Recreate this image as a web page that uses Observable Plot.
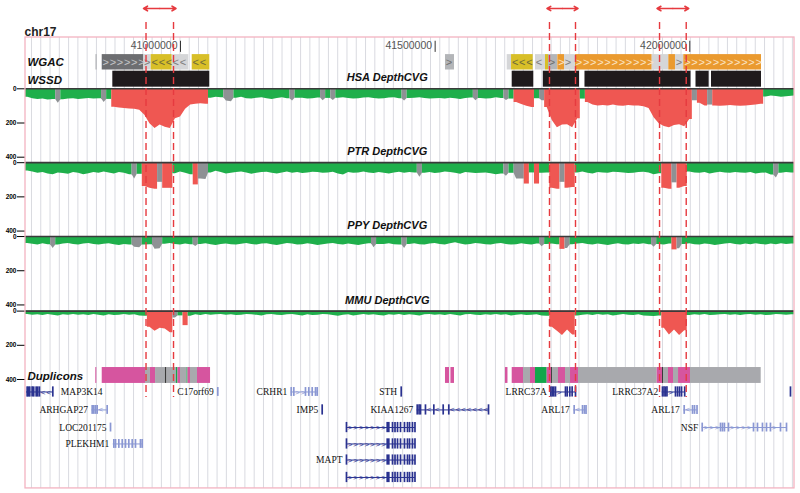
<!DOCTYPE html>
<html><head><meta charset="utf-8">
<script src="https://cdn.jsdelivr.net/npm/d3@7"></script>
<script src="https://cdn.jsdelivr.net/npm/@observablehq/plot@0.6"></script>
<style>body{margin:0;background:#fff}#chart svg{display:block}</style>
</head><body><div id="chart"></div>
<script>
// ================= DATA =================
const chrom = "chr17";
const rulerTicks = [41000, 41500, 42000];            // kb
const axisValues = [0, 200, 400];
const trackNames = ["HSA DepthCVG", "PTR DepthCVG", "PPY DepthCVG", "MMU DepthCVG"];
const sampleStart = 40695, sampleStep = 10;          // kb (bin start, bin width)

const hsaDepth = [
 50,58,62,60,66,62,85,64,60,58, 62,60,56,60,58,80,62,108,112,115,
 118,120,125,155,205,232,212,225,232,175, 165,120,95,90,88,90,55,50,52,72,
 75,55,50,58,60,55,52,58,62,56, 52,58,72,55,55,60,58,54,70,56,
 68,55,52,56,60,58,54,52,56,60, 58,54,52,58,72,56,55,52,56,60,
 58,56,60,55,58,62,56,54,70,56, 60,58,52,56,68,60,80,92,102,110,
 58,70,110,185,228,212,210,228,175,60, 80,95,100,98,100,95,100,102,98,100,
 100,105,115,170,205,220,228,215,210,222, 180,70,85,100,95,100,102,100,98,100,
 102,100,98,95,90,48,42,45,50,46, 44,40];
const hsaRed  = [[40860,41050],[41650,41690],[41710,41780],[41790,42000],[42010,42140]];
const hsaGray = [[40750,40760],[40840,40850],[41080,41100],[41210,41220],[41270,41280],[41290,41300],
                 [41430,41440],[41570,41580],[41630,41640],[41700,41710],[42000,42010],[42030,42040]];

const ptrDepth = [
 48,55,62,58,66,70,60,64,68,58, 62,70,65,58,62,55,60,66,58,62,
 70,96,68,140,150,155,115,150,150,65, 55,62,70,130,96,98,60,50,58,66,
 62,58,55,60,68,62,58,56,62,66, 60,55,62,58,64,60,56,58,62,60,
 56,66,72,58,62,60,55,60,64,58, 62,66,60,56,62,58,60,85,62,58,
 64,60,55,58,62,68,58,60,64,62, 60,65,70,66,80,62,96,96,125,60,
 125,62,60,150,156,115,150,145,60,55, 62,66,58,60,62,56,58,60,64,62,
 58,56,60,70,65,150,156,118,150,140, 55,60,62,58,66,60,56,60,62,58,
 60,62,58,66,62,60,72,90,62,58, 60,62];
const ptrRed  = [[40920,40980],[41020,41030],[41670,41680],[41690,41700],[41720,41770],[41940,41990]];
const ptrGray = [[40900,40910],[40950,40960],[41030,41050],[41460,41470],[41630,41640],[41650,41670],
                 [41740,41750],[41960,41970],[42160,42170]];

const ppyDepth = [
 40,45,50,42,48,70,50,44,40,46, 50,44,40,46,50,45,42,48,52,46,
 50,62,65,50,48,75,72,45,40,46, 50,44,48,58,46,42,48,52,46,44,
 48,50,45,40,46,50,44,42,48,52, 46,40,44,50,48,42,46,52,48,44,
 40,46,50,44,48,52,46,42,65,46, 46,42,48,50,70,46,42,48,50,44,
 40,46,50,42,36,44,50,46,40,44, 48,50,44,40,46,50,48,42,46,50,
 44,60,46,44,48,75,70,48,44,40, 46,50,44,48,52,46,42,48,50,44,
 46,42,48,62,46,50,44,78,72,46, 42,48,50,44,46,52,48,44,40,46,
 50,44,48,42,46,50,44,48,42,46, 44,42];
const ppyRed  = [[41740,41750],[41960,41970]];
const ppyGray = [[40740,40750],[40900,40920],[40940,40960],[41020,41030],[41370,41380],[41430,41440],
                 [41700,41710],[41750,41760],[41920,41930],[41970,41980]];

const mmuDepth = [
 20,24,22,26,20,24,28,22,25,20, 24,22,26,20,24,28,22,26,24,20,
 25,22,28,30,95,118,100,105,127,40, 28,85,30,22,26,20,24,22,20,25,
 22,26,24,20,22,25,28,22,20,24, 26,22,20,24,28,22,26,24,20,22,
 26,30,24,22,28,25,20,24,22,26, 28,22,24,20,26,22,24,28,22,20,
 24,22,26,20,24,28,22,20,24,26, 22,25,20,24,22,28,24,22,26,24,
 22,28,30,95,118,142,110,140,28,24, 22,26,20,24,22,28,24,20,24,26,
 22,28,30,32,28,100,140,110,142,115, 26,22,24,20,26,24,22,20,24,22,
 26,22,20,24,22,26,24,20,22,24, 22,20];
const mmuRed  = [[40930,40980],[41000,41010],[41720,41770],[41940,41990]];
const mmuGray = [[40980,40990]];

// WGAC blocks: start, end (kb), type, strand
const wgacStart  = [40834,40846.3,40927.9,40942.5,40983.7,41023,41520.3,41641.5,41650,41697,41716.7,41722.6,41740.8,41754,41775.6,41926.2,41958.8,41971.9,41988.2];
const wgacEnd    = [40836.5,40927.9,40942.5,40983.7,41016.3,41057.5,41538,41650,41692.5,41716.7,41722.6,41740.2,41754,41775.6,41926.2,41958.8,41971.9,41988.2,42140.8];
const wgacType   = ["mid","dark","light","yellow","light","yellow","mid","light","yellow","light","yellow","mid","orange","light","orange","light","orange","light","orange"];
const wgacStrand = ["",">",">","<","<","<",">","","<","<","",">",">",">",">","","",">",">"];

// WSSD blocks
const wssdStart = [40867.1,41651.3,41712.4,41794.2,42012.2,42042.6];
const wssdEnd   = [41057.5,41693.7,41783.5,42002.4,42038,42140.8];

// Duplicons
const dupStart = [40833.7,40846.3,40931.3,40941,40951,40970.5,40973.5,40992,40995,41000,41012.8,41014.7,41019.6,41033.4,
                  41520.3,41531,41638,41651.3,41673.5,41687.2,41697,41720,41728.5,41730.4,41742.2,41756,41765.8,41781.5,
                  41936,41946.4,41948.4,41958.2,41968,41977.9,42001.4];
const dupEnd   = [40835.7,40931.3,40941,40951,40970.5,40973.5,40992,40995,41000,41012.8,41014.7,41019.6,41033.4,41059,
                  41528.2,41538,41643,41673.5,41687.2,41697,41720,41728.5,41730.4,41742.2,41756,41765.8,41781.5,41936,
                  41946.4,41948.4,41958.2,41968,41977.9,42001.4,42140.2];
const dupType  = ["pink","pink","gray","pink","gray","dark","gray","green","pink","gray","green","pink","gray","pink",
                  "pink","pink","pink","pink","gray","pink","green","pink","dark","gray","pink","gray","pink","gray",
                  "pink","dark","gray","pink","gray","pink","gray"];

// Genes
const maptExons = [41325.9,41405.9,41409,41416.3,41421.2,41426.1,41432,41439.8,41445.7,41449.7,41455.5,41460.4];
const genes = [
 {name:"MAP3K14", row:0, start:40697.6, end:40749.3, tone:"dark", side:"right", chev:"<", exons:[40698.9,40701.5,40704,40708.7,40711.8,40716.6,40719.7,40723.1,40749.3]},
 {name:"C17orf69", row:0, start:41073.2, end:41073.2, tone:"light", exons:[41073.2]},
 {name:"CRHR1", row:0, start:41217.4, end:41268.4, tone:"light", chev:">", exons:[41217.4,41222.5,41245.4,41251.9,41258.6,41265.1,41268.4]},
 {name:"STH", row:0, start:41433.4, end:41433.4, tone:"dark", exons:[41433.4]},
 {name:"LRRC37A", row:0, start:41727.1, end:41775.6, tone:"dark", chev:">", exons:[41727.1,41729.8,41733,41736.3,41755.9,41759.2,41764.4,41769,41775.6]},
 {name:"LRRC37A2", row:0, start:41945.8, end:41991.6, tone:"dark", chev:">", exons:[41946.4,41949.4,41952.3,41955.2,41971.9,41975.9,41979.8,41983.8,41990]},
 {name:"", row:0, start:42197.7, end:42197.7, tone:"dark", exons:[42197.7]},
 {name:"ARHGAP27", row:1, start:40826.2, end:40856, tone:"light", chev:"<", exons:[40826.6,40829.8,40833.1,40836.4,40856]},
 {name:"IMP5", row:1, start:41278.2, end:41278.2, tone:"dark", exons:[41278.2]},
 {name:"KIAA1267", row:1, start:41464.8, end:41604.8, tone:"dark", chev:"<", exons:[41464.8,41468.4,41471.2,41481,41497.4,41515.8,41526.8,41604.8]},
 {name:"ARL17", row:1, start:41772.3, end:41796.6, tone:"light", chev:"<", exons:[41773,41789.4,41793.3,41796.3]},
 {name:"ARL17", row:1, start:41988.2, end:42014.5, tone:"light", chev:"<", exons:[41989,42005.4,42009.3,42014.2]},
 {name:"LOC201175", row:2, start:40862.6, end:40862.6, tone:"light", exons:[40862.6]},
 {name:"", row:2, start:41325.9, end:41461.4, tone:"dark", chev:">", exons:maptExons},
 {name:"NSF", row:2, start:42024.4, end:42191.3, tone:"light", chev:">", exons:[42024.4,42060.3,42064.2,42068,42076,42125.1,42132.9,42142.7,42150.6,42158.4,42178.1,42189.9]},
 {name:"PLEKHM1", row:3, start:40867.9, end:40924.8, tone:"light", exons:[40869.1,40872.4,40878.9,40885.6,40892,40898.5,40905.2,40911.6,40921.4,40924.8]},
 {name:"", row:3, start:41325.9, end:41461.4, tone:"dark", chev:">", exons:maptExons},
 {name:"MAPT", row:4, start:41325.9, end:41461.4, tone:"dark", chev:">", exons:maptExons},
 {name:"", row:5, start:41325.9, end:41461.4, tone:"dark", chev:">", exons:maptExons}
];

// Highlighted regions (kb)
const regionStart = [40932.3, 41724.5, 41940.6];
const regionEnd   = [40986.3, 41775.6, 41993.0];

// ================= LAYOUT & STYLE =================
const xDomain = [40695.66, 42205.6];
const yDomain = [-516.4, 2366.7];   // depth units, downward
const trackOffsets = [0, 432, 864, 1300];
const L = {
  arrowY: -469.6, dashY1: -387.7, dashY2: 1805,
  frameY1: -300, frameY2: 2337,
  rulerLabelY: -253, rulerTickY1: -278, rulerTickY2: -213,
  wgacY1: -200, wgacY2: -110, wgacLabelY: -154,
  wssdY1: -103, wssdY2: -9.5, wssdLabelY: -51,
  trackLabelX: 41406, trackLabelDy: -65,
  dupY1: 1630, dupY2: 1723, dupLabelY: 1680,
  geneRowY: [1773, 1878, 1981, 2077, 2171, 2273],
  gridStart: 40707.4, gridStep: 18.22
};
const C = {
  green:"#1faf4b", red:"#ef5752", gray:"#8e9194", base:"#3a3a3a", grid:"#d9dae0", frame:"#f3b3c1", marker:"#e63a3f",
  wgac:{dark:"#6d6e71", light:"#d5d6d8", mid:"#b3b5b8", yellow:"#d8bf28", orange:"#ea9a2f"},
  chev:{dark:"#c4c5c7", light:"#7d7d7d", mid:"#6f6f6f", yellow:"#6e6a3a", orange:"#fbe4c4"},
  dup:{pink:"#d6559f", gray:"#a8a9ad", green:"#13a64b", dark:"#3a3a3a"},
  gene:{dark:"#2a3290", light:"#8a97d3"}
};
const SANS = "Liberation Sans, Arial, sans-serif";
const SERIF = "Liberation Serif, Times New Roman, serif";

// ================= BUILD =================
const tracks = [
  {values:hsaDepth, red:hsaRed, gray:hsaGray},
  {values:ptrDepth, red:ptrRed, gray:ptrGray},
  {values:ppyDepth, red:ppyRed, gray:ppyGray},
  {values:mmuDepth, red:mmuRed, gray:mmuGray}
];
const inAny = (kb, iv) => iv.some(([a,b]) => kb >= a && kb < b);
const depthPts = [];
tracks.forEach((t, ti) => {
  const off = trackOffsets[ti];
  const bins = t.values.map((v, i) => {
    const b = sampleStart + i * sampleStep;
    const c = inAny(b, t.gray) ? "gray" : inAny(b, t.red) ? "red" : "green";
    return {b, x: b + sampleStep / 2, d: v, c};
  });
  let i = 0, seg = 0;
  while (i < bins.length) {
    let j = i;
    while (j + 1 < bins.length && bins[j + 1].c === bins[i].c) j++;
    const c = bins[i].c, key = ti + "-" + seg++;
    const push = (x, d) => depthPts.push({x, y: off + d, base: off, seg: key, fill: C[c]});
    let ld = bins[i].d;
    if (i > 0) { const pc = bins[i - 1].c; if (c !== "red" && pc !== "red" && c !== "green") ld = bins[i - 1].d; }
    push(bins[i].b, ld);
    for (let k = i; k <= j; k++) push(bins[k].x, bins[k].d);
    let rd = bins[j].d;
    if (j < bins.length - 1) { const nc = bins[j + 1].c; if (c !== "red" && nc !== "red" && c !== "green") rd = bins[j + 1].d; }
    push(bins[j].b + sampleStep, rd);
    i = j + 1;
  }
});

const wgac = wgacStart.map((s, i) => ({x1: s, x2: wgacEnd[i], type: wgacType[i], strand: wgacStrand[i]}));
const wgacChev = wgac.filter(d => d.strand).flatMap(d => {
  let r = d3.range(d.x1 + 7, d.x2 - 3, 14);
  if (!r.length) r = [(d.x1 + d.x2) / 2];
  return r.map(x => ({x, s: d.strand, fill: C.chev[d.type]}));
});
const wssd = wssdStart.map((s, i) => ({x1: s, x2: wssdEnd[i]}));
const dups = dupStart.map((s, i) => ({x1: s, x2: dupEnd[i], fill: C.dup[dupType[i]]}));

const exonData = genes.flatMap(g => g.exons.map(x => ({
  x, y1: L.geneRowY[g.row] - (g.tone === "dark" ? 30 : 26), y2: L.geneRowY[g.row] + (g.tone === "dark" ? 30 : 26),
  stroke: C.gene[g.tone]})));
const geneChev = genes.filter(g => g.chev).flatMap(g => {
  const ex = [...g.exons].sort((a, b) => a - b);
  const out = [];
  for (let i = 0; i < ex.length - 1; i++) {
    if (ex[i + 1] - ex[i] > 14) d3.range(ex[i] + 7, ex[i + 1] - 4, 11).forEach(x => out.push({x, y: L.geneRowY[g.row], s: g.chev, fill: C.gene[g.tone]}));
  }
  return out;
});
const geneLabels = genes.filter(g => g.name);

const axisTicks = trackOffsets.flatMap(o => axisValues.map(v => o + v));
const axisLabel = d => { const o = trackOffsets.filter(o => o <= d + 1e-6).pop(); return String(Math.round(d - o)); };

const arrows = regionStart.flatMap((a, i) => {
  const m = (a + regionEnd[i]) / 2;
  return [{x1: m, x2: a}, {x1: m, x2: regionEnd[i]}];
});
const gridX = d3.range(L.gridStart, xDomain[1], L.gridStep);

const chart = Plot.plot({
  width: 800, height: 493,
  marginLeft: 25, marginRight: 6, marginTop: 0, marginBottom: 0,
  x: {domain: xDomain, axis: null},
  y: {domain: yDomain, range: [0, 493], axis: null},
  color: {type: "identity"},
  style: {background: "#fff", overflow: "visible"},
  marks: [
    Plot.ruleX(gridX, {y1: L.frameY1, y2: L.frameY2, stroke: C.grid, strokeWidth: 1}),
    // WGAC
    Plot.rect(wgac, {x1: "x1", x2: "x2", y1: L.wgacY1, y2: L.wgacY2, fill: d => C.wgac[d.type]}),
    Plot.text(wgacChev, {x: "x", y: (L.wgacY1 + L.wgacY2) / 2, text: "s", fill: "fill", fontSize: 11, fontFamily: SANS}),
    // WSSD
    Plot.rect(wssd, {x1: "x1", x2: "x2", y1: L.wssdY1, y2: L.wssdY2, fill: "#1f1a1c"}),
    // depth tracks
    Plot.areaY(depthPts, {x: "x", y1: "base", y2: "y", z: "seg", fill: "fill", curve: "linear", clip: true}),
    Plot.ruleY(trackOffsets, {x1: xDomain[0], x2: xDomain[1], stroke: C.base, strokeWidth: 1.6}),
    Plot.text(trackNames, {x: L.trackLabelX, y: (d, i) => trackOffsets[i] + L.trackLabelDy, text: d => d,
      fontSize: 11, fontWeight: "bold", fontStyle: "italic", fontFamily: SANS, fill: "#111"}),
    // row labels
    Plot.text(["WGAC", "WSSD", "Duplicons"], {x: xDomain[0], y: [L.wgacLabelY, L.wssdLabelY, L.dupLabelY], text: d => d,
      textAnchor: "start", dx: 2, fontSize: 11.5, fontWeight: "bold", fontStyle: "italic", fontFamily: SANS, fill: "#111"}),
    // duplicons
    Plot.rect(dups, {x1: "x1", x2: "x2", y1: L.dupY1, y2: L.dupY2, fill: "fill"}),
    // genes
    Plot.ruleY(genes.filter(g => g.end > g.start), {y: g => L.geneRowY[g.row], x1: "start", x2: "end", stroke: g => C.gene[g.tone], strokeWidth: 1}),
    Plot.ruleX(exonData, {x: "x", y1: "y1", y2: "y2", stroke: "stroke", strokeWidth: 1.7}),
    Plot.text(geneChev, {x: "x", y: "y", text: "s", fill: "fill", fontSize: 8, fontFamily: SANS}),
    Plot.text(geneLabels.filter(g => g.side !== "right"), {x: "start", y: g => L.geneRowY[g.row], text: "name",
      textAnchor: "end", dx: -4, fontSize: 9.5, fontFamily: SERIF, fill: "#111"}),
    Plot.text(geneLabels.filter(g => g.side === "right"), {x: "end", y: g => L.geneRowY[g.row], text: "name",
      textAnchor: "start", dx: 8, fontSize: 9.5, fontFamily: SERIF, fill: "#111"}),
    // y axis
    Plot.axisY(axisTicks, {anchor: "left", tickSize: 8, tickPadding: 1, tickFormat: axisLabel, label: null,
      fontSize: 6.5, fontWeight: "bold", fontFamily: SANS}),
    // ruler
    Plot.ruleX(rulerTicks, {y1: L.rulerTickY1, y2: L.rulerTickY2, stroke: "#333", strokeWidth: 1}),
    Plot.text(rulerTicks, {x: d => d, y: L.rulerLabelY, text: d => String(d * 1000), textAnchor: "end", dx: -3,
      fontSize: 10.5, fontFamily: SANS, fill: "#555"}),
    // title
    Plot.text([chrom], {frameAnchor: "top-left", dx: -1, dy: 27, text: d => d, textAnchor: "start",
      fontSize: 12, fontWeight: "bold", fontFamily: SANS, fill: "#222"}),
    // frame
    Plot.rect([0], {x1: xDomain[0], x2: xDomain[1], y1: L.frameY1, y2: L.frameY2, fill: "none", stroke: C.frame, strokeWidth: 1.3}),
    // highlighted regions
    Plot.ruleX([...regionStart, ...regionEnd], {y1: L.dashY1, y2: L.dashY2, stroke: C.marker, strokeWidth: 1.4, strokeDasharray: "7,4"}),
    Plot.arrow(arrows, {x1: "x1", x2: "x2", y1: L.arrowY, y2: L.arrowY, stroke: C.marker, strokeWidth: 1.6, headLength: 6, insetEnd: -2.5})
  ]
});
document.getElementById("chart").append(chart);
</script>
</body></html>
